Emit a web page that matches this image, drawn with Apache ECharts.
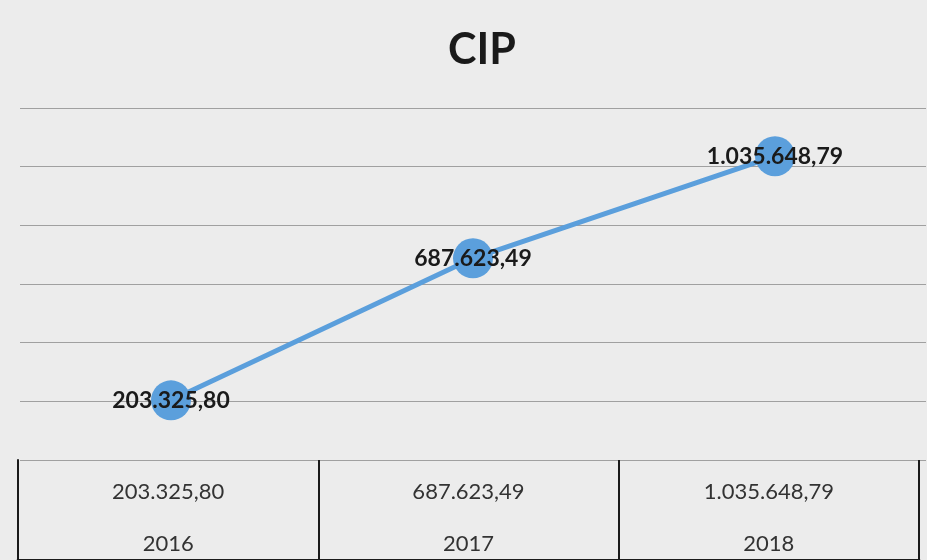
<!DOCTYPE html>
<html>
<head>
<meta charset="utf-8">
<script src="https://cdn.jsdelivr.net/npm/echarts@6/dist/echarts.min.js"></script>
<style>
	html, body { margin: 0; padding: 0; background: #ececec; }
	#lineChart { width: 927px; height: 560px; }
</style>
</head>
<body>
<div id="lineChart"></div>
<script>
	// 数据
	var years = ['2016', '2017', '2018'];
	var cipValues = [203325.80, 687623.49, 1035648.79];
	var yTicks = [0, 200000, 400000, 600000, 800000, 1000000, 1200000];

	// 203325.8 -> "203.325,80"
	function fmt(n) {
		var parts = n.toFixed(2).split('.');
		return parts[0].replace(/\B(?=(\d{3})+(?!\d))/g, '.') + ',' + parts[1];
	}

	var chart = echarts.init(document.getElementById('lineChart'));
	var option = {
		backgroundColor: '#ececec',
		title: {
			text: 'CIP',
			left: 443,
			top: 24,
			textStyle: {
				fontFamily: 'Lato',
				fontWeight: 'bold',
				fontSize: 43,
				color: '#1a1a1a'
			}
		},
		grid: [{
			left: 20,
			right: 1,
			top: 108,
			bottom: 100
		}, {
			left: 18,
			right: 8,
			top: 460,
			bottom: -20
		}],
		xAxis: [{
			type: 'category',
			gridIndex: 0,
			data: years,
			axisLine: { show: false },
			axisTick: { show: false },
			axisLabel: { show: false }
		}, {
			type: 'category',
			gridIndex: 1,
			position: 'top',
			data: years,
			axisLine: {
				lineStyle: { color: '#1a1a1a', width: 3 }
			},
			axisTick: { show: false },
			splitLine: {
				show: true,
				lineStyle: { color: '#1a1a1a', width: 2 }
			},
			axisLabel: {
				inside: true,
				margin: 6,
				formatter: function (val, idx) {
					return '{v|' + fmt(cipValues[idx]) + '}\n{y|' + val + '}';
				},
				rich: {
					v: { fontFamily: 'Lato', fontSize: 22, color: '#333', lineHeight: 52 },
					y: { fontFamily: 'Lato', fontSize: 22, color: '#333', lineHeight: 52 }
				}
			}
		}],
		yAxis: [{
			type: 'value',
			gridIndex: 0,
			min: yTicks[0],
			max: yTicks[yTicks.length - 1],
			interval: yTicks[1] - yTicks[0],
			axisLine: { show: false },
			axisTick: { show: false },
			axisLabel: { show: false },
			splitLine: {
				lineStyle: { color: '#a0a0a0', width: 1 }
			}
		}, {
			type: 'value',
			gridIndex: 1,
			min: 0,
			max: 1,
			axisLine: {
				show: true,
				lineStyle: { color: '#1a1a1a', width: 2 }
			},
			axisTick: { show: false },
			axisLabel: { show: false },
			splitLine: { show: false }
		}],
		series: [{
			name: 'CIP',
			type: 'line',
			xAxisIndex: 0,
			yAxisIndex: 0,
			data: cipValues,
			symbol: 'circle',
			symbolSize: 40,
			lineStyle: { color: '#5b9fdc', width: 5 },
			itemStyle: { color: '#5b9fdc' },
			label: {
				show: true,
				position: 'inside',
				formatter: function (p) { return fmt(p.value); },
				fontFamily: 'Lato',
				fontWeight: 'bold',
				fontSize: 23,
				color: '#1a1a1a'
			}
		}]
	};
	chart.setOption(option);
</script>
</body>
</html>
